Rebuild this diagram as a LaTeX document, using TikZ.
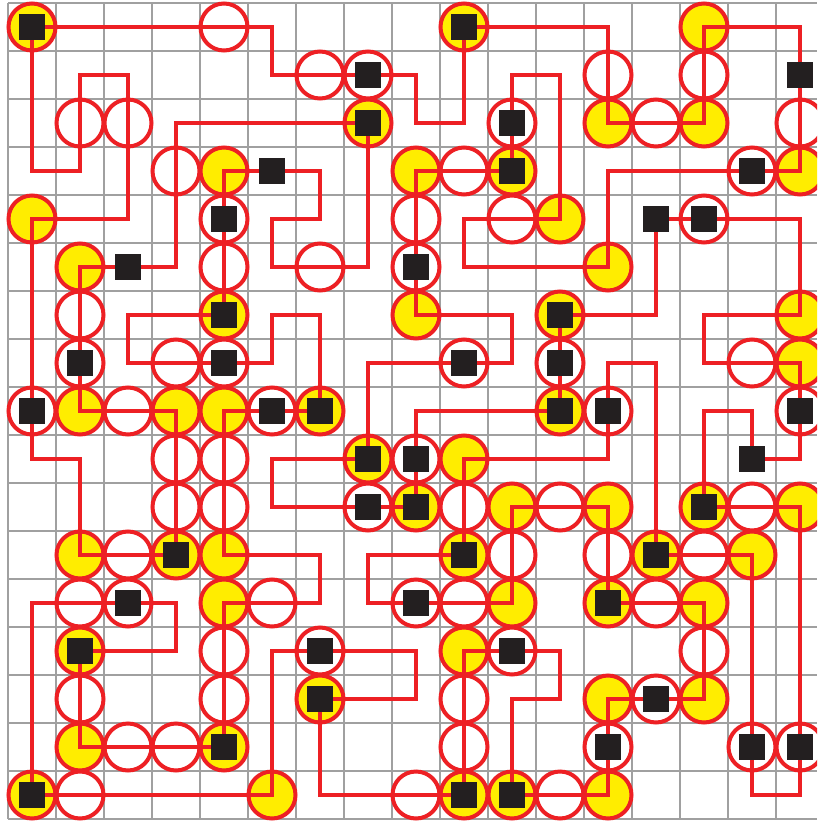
\documentclass[tikz,border=0pt]{standalone}
\definecolor{pathred}{RGB}{237,32,36}
\definecolor{dotyellow}{RGB}{255,237,0}
\definecolor{sqblack}{RGB}{35,31,32}
\definecolor{gridgray}{RGB}{160,160,160}
\begin{document}
\begin{tikzpicture}[x=1pt,y=-1pt,
  gridline/.style={draw=gridgray,line width=1.5pt},
  cellc/.style={circle,draw=pathred,line width=4pt,minimum size=47pt,inner sep=0pt},
  wc/.style={cellc,fill=white},
  yc/.style={cellc,fill=dotyellow},
  sq/.style={rectangle,fill=sqblack,minimum size=26pt,inner sep=0pt},
  loopline/.style={draw=pathred,line width=4pt,line join=miter}]
\useasboundingbox (0,0) rectangle (817,822);
\clip (0,0) rectangle (817,822);
\fill[white] (0,0) rectangle (817,822);
\foreach \i in {0,...,16}{\foreach \j in {0,...,16}{\coordinate (c-\i-\j) at ({32+48*\i},{27+48*\j});}}
% grid
\foreach \k in {0,...,16} \draw[gridline] ({8+48*\k},3) -- ({8+48*\k},819);
\foreach \k in {0,...,17} \draw[gridline] (8,{3+48*\k}) -- (817,{3+48*\k});
% white circles
\foreach \i/\j in {4/0, 6/1,7/1,12/1,14/1, 1/2,2/2,10/2,13/2,16/2, 3/3,9/3,15/3,
  4/4,8/4,10/4,14/4, 4/5,6/5,8/5, 1/6, 1/7,3/7,4/7,9/7,11/7,15/7,
  0/8,2/8,5/8,12/8,16/8, 3/9,4/9,8/9, 3/10,4/10,7/10,9/10,11/10,15/10,
  2/11,10/11,12/11,14/11, 1/12,2/12,5/12,8/12,9/12,13/12, 4/13,6/13,10/13,14/13,
  1/14,4/14,9/14,13/14, 2/15,3/15,9/15,12/15,15/15,16/15, 1/16,8/16,11/16}
  \node[wc] (o-\i-\j) at (c-\i-\j) {};
% yellow circles
\foreach \i/\j in {0/0,9/0,14/0, 7/2,12/2,14/2, 4/3,8/3,10/3,16/3, 0/4,11/4, 1/5,12/5,
  4/6,8/6,11/6,16/6, 16/7, 1/8,3/8,4/8,6/8,11/8, 7/9,9/9, 8/10,10/10,12/10,14/10,16/10,
  1/11,3/11,4/11,9/11,13/11,15/11, 4/12,10/12,12/12,14/12, 1/13,9/13, 6/14,12/14,14/14,
  1/15,4/15, 0/16,5/16,9/16,10/16,12/16}
  \node[yc] (o-\i-\j) at (c-\i-\j) {};
% the loop
\draw[loopline] (c-0-0) -- (c-5-0) -- (c-5-1) -- (c-8-1) -- (c-8-2) -- (c-9-2) -- (c-9-0) -- (c-12-0) -- (c-12-2) -- (c-14-2) -- (c-14-0) -- (c-16-0) -- (c-16-3) -- (c-12-3) -- (c-12-5) -- (c-9-5) -- (c-9-4) -- (c-11-4) -- (c-11-1) -- (c-10-1) -- (c-10-3) -- (c-8-3) -- (c-8-6) -- (c-10-6) -- (c-10-7) -- (c-7-7) -- (c-7-9) -- (c-5-9) -- (c-5-10) -- (c-8-10) -- (c-8-8) -- (c-11-8) -- (c-11-6) -- (c-13-6) -- (c-13-4) -- (c-16-4) -- (c-16-6) -- (c-14-6) -- (c-14-7) -- (c-16-7) -- (c-16-9) -- (c-15-9) -- (c-15-8) -- (c-14-8) -- (c-14-10) -- (c-16-10) -- (c-16-16) -- (c-15-16) -- (c-15-11) -- (c-13-11) -- (c-13-7) -- (c-12-7) -- (c-12-9) -- (c-9-9) -- (c-9-11) -- (c-7-11) -- (c-7-12) -- (c-10-12) -- (c-10-10) -- (c-12-10) -- (c-12-12) -- (c-14-12) -- (c-14-14) -- (c-12-14) -- (c-12-16) -- (c-10-16) -- (c-10-14) -- (c-11-14) -- (c-11-13) -- (c-9-13) -- (c-9-16) -- (c-6-16) -- (c-6-14) -- (c-8-14) -- (c-8-13) -- (c-5-13) -- (c-5-16) -- (c-0-16) -- (c-0-12) -- (c-3-12) -- (c-3-13) -- (c-1-13) -- (c-1-15) -- (c-4-15) -- (c-4-12) -- (c-6-12) -- (c-6-11) -- (c-4-11) -- (c-4-8) -- (c-6-8) -- (c-6-6) -- (c-5-6) -- (c-5-7) -- (c-2-7) -- (c-2-6) -- (c-4-6) -- (c-4-3) -- (c-6-3) -- (c-6-4) -- (c-5-4) -- (c-5-5) -- (c-7-5) -- (c-7-2) -- (c-3-2) -- (c-3-5) -- (c-1-5) -- (c-1-8) -- (c-3-8) -- (c-3-11) -- (c-1-11) -- (c-1-9) -- (c-0-9) -- (c-0-4) -- (c-2-4) -- (c-2-1) -- (c-1-1) -- (c-1-3) -- (c-0-3) -- cycle;
% black squares
\foreach \i/\j in {0/0,9/0, 7/1,16/1, 7/2,10/2, 5/3,10/3,15/3, 4/4,13/4,14/4, 2/5,8/5,
  4/6,11/6, 1/7,4/7,9/7,11/7, 0/8,5/8,6/8,11/8,12/8,16/8, 7/9,8/9,15/9, 7/10,8/10,14/10,
  3/11,9/11,13/11, 2/12,8/12,12/12, 1/13,6/13,10/13, 6/14,13/14, 4/15,12/15,15/15,16/15,
  0/16,9/16,10/16}
  \node[sq] (s-\i-\j) at (c-\i-\j) {};
\end{tikzpicture}
\end{document}
